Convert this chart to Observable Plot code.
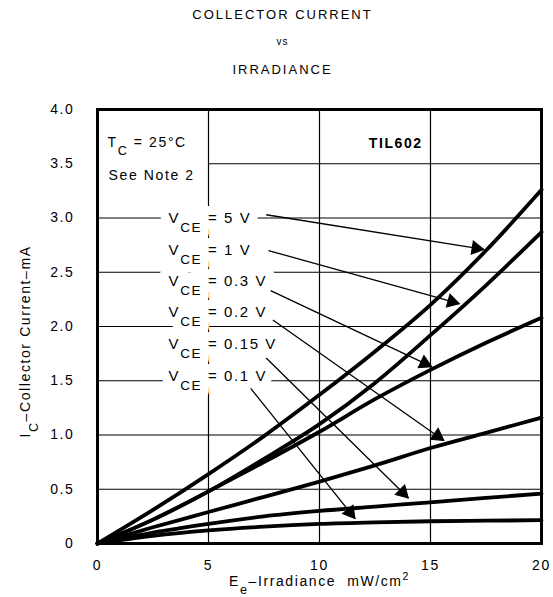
<!DOCTYPE html>
<html><head><meta charset="utf-8">
<script src="https://cdn.jsdelivr.net/npm/d3@7"></script>
<script src="https://cdn.jsdelivr.net/npm/@observablehq/plot@0.6"></script>
<style>
body{margin:0;background:#fff;}
#wrap{width:553px;height:597px;position:relative;overflow:hidden;font-family:"Liberation Sans",Arial,sans-serif;color:#000}
.t{position:absolute;left:0;width:553px;padding-left:12px;box-sizing:border-box;text-align:center;letter-spacing:2px}
#chart svg text{letter-spacing:1.6px}
</style></head><body>
<div id="wrap">
<div id="titles" style="height:84px;position:relative">
 <div class="t" style="top:0;line-height:30px;font-size:13px">COLLECTOR CURRENT</div>
 <div class="t" style="top:30px;line-height:24px;font-size:10px;letter-spacing:1px">vs</div>
 <div class="t" style="top:56px;line-height:28px;font-size:13px">IRRADIANCE</div>
</div>
<div id="chart"></div>
</div>
<script>
// ---- data ----
const E = [0, 2.5, 5, 7.5, 10, 12.5, 15, 17.5, 20];
const series = ["5 V", "1 V", "0.3 V", "0.2 V", "0.15 V", "0.1 V"];
const ic5V   = [0, 0.31, 0.64, 0.99, 1.37, 1.77, 2.20, 2.70, 3.26];
const ic1V   = [0, 0.22, 0.48, 0.78, 1.10, 1.48, 1.92, 2.38, 2.87];
const ic03V  = [0, 0.22, 0.48, 0.75, 1.03, 1.33, 1.60, 1.85, 2.08];
const ic02V  = [0, 0.15, 0.29, 0.43, 0.57, 0.72, 0.88, 1.02, 1.16];
const ic015V = [0, 0.10, 0.18, 0.25, 0.30, 0.34, 0.38, 0.42, 0.46];
const ic01V  = [0, 0.07, 0.12, 0.155, 0.18, 0.195, 0.205, 0.21, 0.215];
const curves = [ic5V, ic1V, ic03V, ic02V, ic015V, ic01V];

const labelTexts = ["V_{CE} = 5 V", "V_{CE} = 1 V", "V_{CE} = 0.3 V", "V_{CE} = 0.2 V", "V_{CE} = 0.15 V", "V_{CE} = 0.1 V"];
const labelE = [3.2, 3.2, 3.2, 3.2, 3.2, 3.2];
const labelI = [3.00, 2.70, 2.42, 2.13, 1.84, 1.54];
// leader lines: start (near label) -> end (on curve)
const arrowE1 = [7.6, 7.7, 7.8, 7.9, 7.6, 6.9];
const arrowI1 = [3.03, 2.70, 2.33, 2.06, 1.71, 1.43];
const arrowE2 = [17.4, 16.3, 15.05, 15.6, 14.0, 11.6];
const arrowI2 = [2.71, 2.21, 1.63, 0.95, 0.42, 0.23];

const xTicks = [0, 5, 10, 15, 20];
const xTickLabels = ["0", "5", "10", "15", "20"];
const yTicks = [0, 0.5, 1, 1.5, 2, 2.5, 3, 3.5, 4];
const yTickLabels = ["0", "0.5", "1.0", "1.5", "2.0", "2.5", "3.0", "3.5", "4.0"];
const gridX = [5, 10, 15];
const gridY = [0.5, 1, 1.5, 2, 2.5, 3];
const notes = ["T_{C} = 25°C", "See Note 2"];
const notesE = [0.45, 0.5];
const notesI = [3.70, 3.39];
const deviceText = ["TIL602"];
const deviceE = [14.65];
const deviceI = [3.69];
const xLabel = "E_{e}–Irradiance  mW/cm^{2}";
const yLabel = "I_{C}–Collector Current–mA";

// ---- layout ----
const W = 553, H = 513, mt = 25, mb = 54, ml = 97, mr = 12;
const xDomain = [0, 20], yDomain = [0, 4];
const kx = (W - ml - mr) / (xDomain[1] - xDomain[0]);
const ky = (H - mt - mb) / (yDomain[1] - yDomain[0]);

const rows = [];
series.forEach((s, k) => E.forEach((e, j) => rows.push({s, e, ic: curves[k][j]})));
const labels = series.map((s, k) => ({t: labelTexts[k], x: labelE[k], y: labelI[k]}));
const headR = 5;
const back = 2 * Math.sqrt(Math.PI * headR * headR / (Math.sqrt(3) * 3));
const arrows = series.map((s, k) => {
  const dxp = (arrowE2[k] - arrowE1[k]) * kx;
  const dyp = -(arrowI2[k] - arrowI1[k]) * ky;
  const L = Math.hypot(dxp, dyp);
  return {
    x1: arrowE1[k], y1: arrowI1[k], x2: arrowE2[k], y2: arrowI2[k],
    rot: Math.atan2(dxp, -dyp) * 180 / Math.PI,
    hx: arrowE2[k] - dxp / L * back / kx,
    hy: arrowI2[k] + dyp / L * back / ky
  };
});

const halo = {stroke: "white", fill: "white", strokeLinejoin: "round"};
const plot = Plot.plot({
  width: W, height: H, marginTop: mt, marginBottom: mb, marginLeft: ml, marginRight: mr,
  style: {fontFamily: '"Liberation Sans", Arial, sans-serif', color: "black", background: "white"},
  x: {domain: xDomain},
  y: {domain: yDomain},
  marks: [
    Plot.ruleX(gridX, {stroke: "black", strokeWidth: 1.2}),
    Plot.ruleY(gridY, {stroke: "black", strokeWidth: 1.2}),
    Plot.ruleY([yTicks[7]], {x1: xTicks[1], x2: xTicks[4], stroke: "black", strokeWidth: 1.2}),
    // white halos that break the grid behind the labels
    Plot.text(labels, {x: "x", y: "y", text: "t", textAnchor: "start", fontSize: 15, strokeWidth: 18, ...halo}),
    Plot.text(notes, {x: notesE, y: notesI, text: d => d, textAnchor: "start", fontSize: 14, strokeWidth: 6, ...halo}),
    Plot.text(deviceText, {x: deviceE, y: deviceI, text: d => d, textAnchor: "end", fontSize: 14, fontWeight: "bold", strokeWidth: 6, ...halo}),
    // the texts themselves
    Plot.text(labels, {x: "x", y: "y", text: "t", textAnchor: "start", fontSize: 15, fill: "black"}),
    Plot.text(notes, {x: notesE, y: notesI, text: d => d, textAnchor: "start", fontSize: 14, fill: "black"}),
    Plot.text(deviceText, {x: deviceE, y: deviceI, text: d => d, textAnchor: "end", fontSize: 14, fontWeight: "bold", fill: "black"}),
    Plot.line(rows, {x: "e", y: "ic", z: "s", curve: "monotone-x", stroke: "black", strokeWidth: 3.8, strokeLinecap: "round"}),
    Plot.link(arrows, {x1: "x1", y1: "y1", x2: "x2", y2: "y2", stroke: "black", strokeWidth: 1.3}),
    Plot.dot(arrows, {x: "hx", y: "hy", symbol: "triangle", r: headR, fill: "black", stroke: "black", strokeWidth: 1, rotate: "rot"}),
    Plot.frame({stroke: "black", strokeWidth: 3}),
    Plot.axisX({ticks: xTicks, tickFormat: d => xTickLabels[xTicks.indexOf(d)], tickSize: 0, tickPadding: 17, fontSize: 14, label: null}),
    Plot.axisY({ticks: yTicks, tickFormat: d => yTickLabels[yTicks.indexOf(d)], tickSize: 0, tickPadding: 23, fontSize: 14, label: null}),
    Plot.text([xLabel], {frameAnchor: "bottom", dy: 38, lineAnchor: "middle", textAnchor: "middle", fontSize: 14, text: d => d}),
    Plot.text([yLabel], {frameAnchor: "left", dx: -72, dy: 15, rotate: -90, lineAnchor: "middle", textAnchor: "middle", fontSize: 14, text: d => d})
  ]
});
document.getElementById("chart").appendChild(plot);

// convert _{..} and ^{..} markup into subscript / superscript tspans
function richify(svg) {
  svg.querySelectorAll("text").forEach(t => {
    const s = t.textContent;
    if (!/[_^]\{/.test(s)) return;
    const fs = parseFloat(getComputedStyle(t).fontSize) || 14;
    while (t.firstChild) t.removeChild(t.firstChild);
    const re = /([_^])\{([^}]*)\}/g;
    let last = 0, m, shift = 0;
    const add = (txt, target, size) => {
      if (!txt) return;
      const ts = document.createElementNS("http://www.w3.org/2000/svg", "tspan");
      const d = target - shift;
      if (d) ts.setAttribute("dy", d);
      if (size) ts.setAttribute("font-size", size);
      ts.textContent = txt;
      t.appendChild(ts);
      shift = target;
    };
    while ((m = re.exec(s))) {
      add(s.slice(last, m.index), 0, null);
      if (m[1] === "_") add(m[2], fs * 0.6, fs * 0.9);
      else add(m[2], -fs * 0.42, fs * 0.75);
      last = re.lastIndex;
    }
    add(s.slice(last), 0, null);
  });
}
richify(plot);
</script>
</body></html>
